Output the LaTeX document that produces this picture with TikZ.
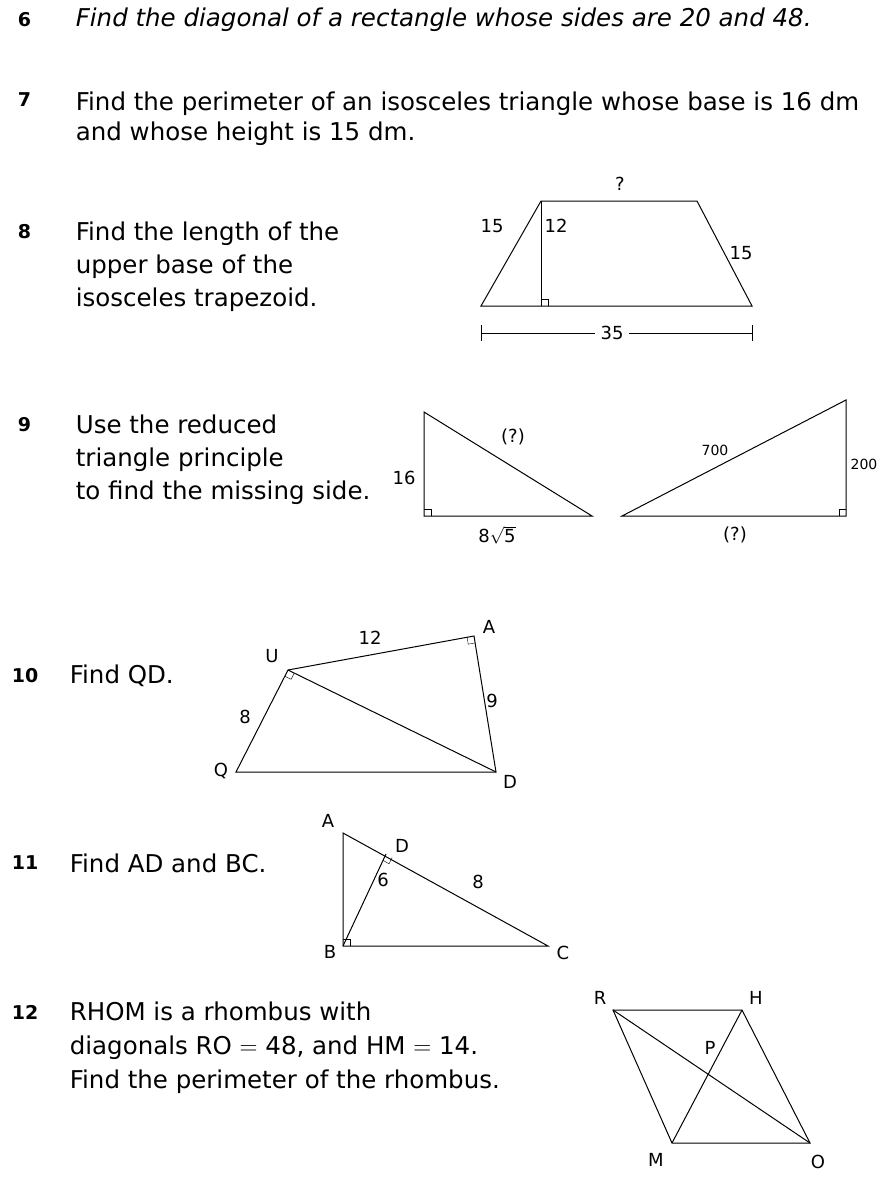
\documentclass[tikz,border=0pt]{standalone}
\usepackage{fontspec}
\setmainfont{DejaVu Sans}
\usetikzlibrary{calc}
\newcommand{\rtmark}[3]{\draw[thin] ($(#1)!7pt!(#2)$) -- ($($(#1)!7pt!(#2)$)+($(#1)!7pt!(#3)$)-(#1)$) -- ($(#1)!7pt!(#3)$);}
\begin{document}
\begin{tikzpicture}[x=1pt,y=-1pt,line width=1pt,
  num/.style={anchor=west,font=\fontsize{19}{21}\selectfont\bfseries},
  txt/.style={anchor=west,font=\fontsize{24.5}{33}\selectfont,align=left},
  lbl/.style={font=\fontsize{18}{20}\selectfont,inner sep=1pt}]
\useasboundingbox (0,0) rectangle (896,1186);
% questions
\node[num] (n6) at (14,20) {6};
\node[txt,font=\fontsize{24.5}{33}\selectfont\itshape] (t6) at (72,20) {Find the diagonal of a rectangle whose sides are 20 and 48.};
\node[num] (n7) at (14,100) {7};
\node[txt,anchor=north west,font=\fontsize{24.5}{30}\selectfont] (t7) at (72,88) {Find the perimeter of an isosceles triangle whose base is 16 dm\\and whose height is 15 dm.};
\node[num] (n8) at (14,232) {8};
\node[txt,anchor=north west] (t8) at (72,218) {Find the length of the\\upper base of the\\isosceles trapezoid.};
\node[num] (n9) at (14,425) {9};
\node[txt,anchor=north west] (t9) at (72,411) {Use the reduced\\triangle principle\\to find the missing side.};
\node[num] (n10) at (8,676) {10};
\node[txt] (t10) at (66,676) {Find QD.};
\node[num] (n11) at (8,863) {11};
\node[txt] (t11) at (66,863) {Find AD and BC.};
\node[num] (n12) at (8,1012) {12};
\node[txt,anchor=north west,font=\fontsize{24.5}{34}\selectfont] (t12) at (66,998) {RHOM is a rhombus with\\diagonals RO $=$ 48, and HM $=$ 14.\\Find the perimeter of the rhombus.};
% trapezoid
\coordinate (tl) at (541,201); \coordinate (tr) at (697,201);
\coordinate (br) at (752,306); \coordinate (bl) at (481,306);
\coordinate (ft) at (541,306);
\draw (tl) -- (tr) -- (br) -- (bl) -- cycle;
\draw (tl) -- (ft);
\rtmark{ft}{tl}{br}
\node[lbl] (q8) at (620,184) {?};
\node[lbl] (s8a) at (492,226) {15};
\node[lbl] (h8) at (556,226) {12};
\node[lbl] (s8b) at (741,253) {15};
\coordinate (dl) at (481,333); \coordinate (dr) at (752,333);
\node[lbl,fill=white,inner sep=5pt] (d8) at (612,333) {35};
\draw (dl) -- (d8) (d8) -- (dr);
\draw ($(dl)+(0,-8)$) -- ($(dl)+(0,8)$) ($(dr)+(0,-8)$) -- ($(dr)+(0,8)$);
% triangles of 9
\coordinate (a9) at (424,412); \coordinate (b9) at (424,516); \coordinate (c9) at (592,516);
\draw (a9) -- (b9) -- (c9) -- cycle;
\rtmark{b9}{a9}{c9}
\node[lbl] (l9a) at (404,478) {16};
\node[lbl] (l9b) at (513,437) {(?)};
\node[lbl] (l9c) at (497,535) {8$\sqrt{\mbox{5}}$};
\coordinate (d9) at (622,516); \coordinate (e9) at (846,400); \coordinate (f9) at (846,516);
\draw (d9) -- (e9) -- (f9) -- cycle;
\rtmark{f9}{e9}{d9}
\node[lbl,font=\fontsize{14}{16}\selectfont] (l9d) at (715,450) {700};
\node[lbl,font=\fontsize{14}{16}\selectfont] (l9e) at (864,464) {200};
\node[lbl] (l9f) at (735,535) {(?)};
% quadrilateral of 10
\coordinate (U) at (288,670); \coordinate (A) at (474,636);
\coordinate (D) at (496,772); \coordinate (Q) at (236,772);
\draw (U) -- (A) -- (D) -- (Q) -- cycle;
\draw (U) -- (D);
\rtmark{U}{Q}{D}
\rtmark{A}{U}{D}
\node[lbl] (lU) at (272,656) {U};
\node[lbl] (lA) at (489,627) {A};
\node[lbl] (lD) at (510,782) {D};
\node[lbl] (lQ) at (221,771) {Q};
\node[lbl] (l12) at (370,638) {12};
\node[lbl] (l8) at (245,717) {8};
\node[lbl] (l9) at (492,701) {9};
% triangle of 11
\coordinate (A11) at (343,833); \coordinate (B11) at (343,946);
\coordinate (C11) at (548,946); \coordinate (D11) at (386,854);
\draw (A11) -- (B11) -- (C11) -- cycle;
\draw (B11) -- (D11);
\rtmark{B11}{A11}{C11}
\rtmark{D11}{B11}{C11}
\node[lbl] (lA11) at (328,821) {A};
\node[lbl] (lD11) at (402,846) {D};
\node[lbl] (lB11) at (330,952) {B};
\node[lbl] (lC11) at (563,953) {C};
\node[lbl] (l6) at (383,880) {6};
\node[lbl] (l8b) at (478,882) {8};
% rhombus of 12
\coordinate (R) at (613,1010); \coordinate (H) at (742,1010);
\coordinate (O) at (810,1143); \coordinate (M) at (672,1143);
\draw (R) -- (H) -- (O) -- (M) -- cycle;
\draw (R) -- (O) (H) -- (M);
\node[lbl] (lR) at (600,998) {R};
\node[lbl] (lH) at (756,998) {H};
\node[lbl] (lO) at (818,1162) {O};
\node[lbl] (lM) at (656,1160) {M};
\node[lbl] (lP) at (710,1048) {P};
\end{tikzpicture}
\end{document}
